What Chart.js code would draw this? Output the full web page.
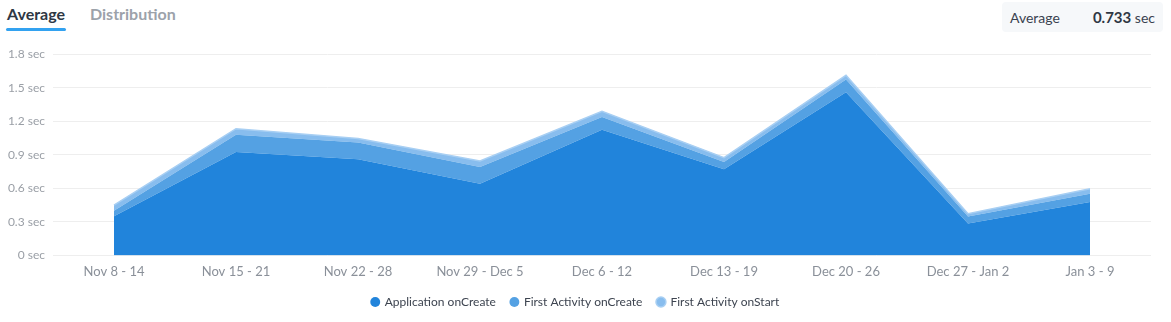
<!DOCTYPE html>
<html>
<head>
<meta charset="utf-8">
<script src="https://cdn.jsdelivr.net/npm/chart.js@4"></script>
<style>
  html, body { margin: 0; padding: 0; background: #fff; }
  body { width: 1171px; height: 322px; position: relative; overflow: hidden; font-family: Lato, "Open Sans", sans-serif; }
  .tab { position: absolute; top: 4px; font-size: 16px; font-weight: 700; }
  .tab.active { left: 7px; color: #2e3744; }
  .tab.active:after { content: ""; position: absolute; left: -1px; right: -1px; top: 24px; height: 3px; background: #33a2f0; border-radius: 2px; }
  .tab.idle { left: 90px; color: #9ca2aa; }
  .avg { position: absolute; left: 1002px; top: 2px; width: 161px; height: 30px; background: #f6f8fa; border-radius: 4px; font-size: 14px; color: #3a4250; }
  .avg .lbl { position: absolute; left: 8px; top: 7px; }
  .avg .val { position: absolute; right: 8px; top: 6px; }
  .avg .val b { font-size: 15px; color: #2e3744; }
  #wrap { position: absolute; left: 0; top: 39px; width: 1171px; height: 283px; }
</style>
</head>
<body>
<div class="tab active">Average</div>
<div class="tab idle">Distribution</div>
<div class="avg"><span class="lbl">Average</span><span class="val"><b>0.733</b> sec</span></div>
<div id="wrap"><canvas id="chart"></canvas></div>
<script>
const weeks = ['Nov 8 - 14', 'Nov 15 - 21', 'Nov 22 - 28', 'Nov 29 - Dec 5', 'Dec 6 - 12', 'Dec 13 - 19', 'Dec 20 - 26', 'Dec 27 - Jan 2', 'Jan 3 - 9'];
const appOnCreate = [0.35, 0.925, 0.86, 0.64, 1.125, 0.77, 1.46, 0.285, 0.477];
const activityOnCreate = [0.05, 0.155, 0.15, 0.15, 0.113, 0.065, 0.113, 0.064, 0.075];
const activityOnStart = [0.05, 0.054, 0.036, 0.055, 0.051, 0.04, 0.038, 0.024, 0.045];
const yTicks = [0, 0.3, 0.6, 0.9, 1.2, 1.5, 1.8];

const ctx = document.getElementById('chart').getContext('2d');
new Chart(ctx, {
  type: 'line',
  data: {
    labels: weeks,
    datasets: [
      {
        label: 'Application onCreate',
        data: appOnCreate,
        backgroundColor: '#2184db',
        borderColor: '#2184db',
        borderWidth: 0,
        fill: 'origin'
      },
      {
        label: 'First Activity onCreate',
        data: activityOnCreate,
        backgroundColor: '#54a1e3',
        borderColor: '#54a1e3',
        borderWidth: 0,
        fill: '-1'
      },
      {
        label: 'First Activity onStart',
        data: activityOnStart,
        backgroundColor: '#88bdee',
        borderColor: '#a8cff3',
        borderWidth: 1.5,
        fill: '-1'
      }
    ]
  },
  options: {
    responsive: true,
    maintainAspectRatio: false,
    animation: false,
    layout: { padding: { left: 0, right: 20, top: 14, bottom: 4 } },
    elements: { line: { tension: 0 }, point: { radius: 0 } },
    scales: {
      x: {
        offset: true,
        grid: { display: false },
        border: { display: false },
        ticks: { color: '#8a9099', font: { family: 'Lato', size: 13 }, padding: 1, maxRotation: 0 }
      },
      y: {
        stacked: true,
        min: 0,
        max: 1.8,
        afterBuildTicks: (axis) => { axis.ticks = yTicks.map(v => ({ value: v })); },
        afterFit: (axis) => { axis.width = 53; },
        grid: { color: '#eeeeee', drawTicks: false },
        border: { display: false },
        ticks: {
          color: '#9a9fa6',
          font: { family: 'Lato', size: 12 },
          padding: 8,
          callback: (value) => `${value} sec`
        }
      }
    },
    plugins: {
      legend: {
        position: 'bottom',
        labels: {
          usePointStyle: true,
          pointStyle: 'circle',
          boxWidth: 7,
          boxHeight: 7,
          padding: 15,
          color: '#3d4450',
          font: { family: 'Lato', size: 12 }
        }
      },
      tooltip: { enabled: false }
    }
  }
});
</script>
</body>
</html>
